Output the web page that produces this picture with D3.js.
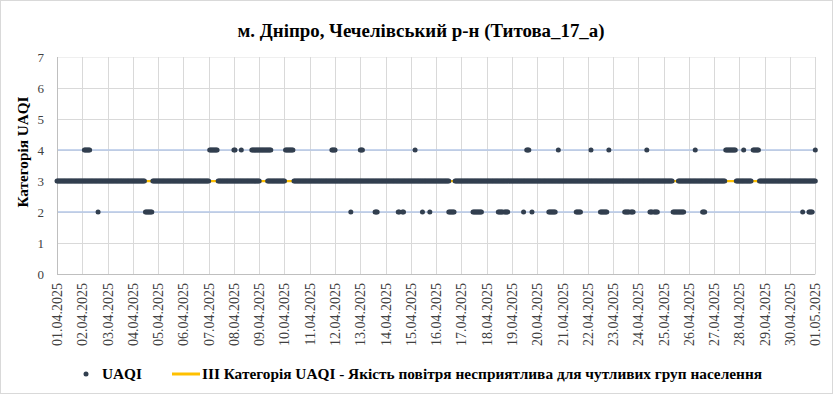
<!DOCTYPE html>
<html>
<head>
<meta charset="utf-8">
<script src="https://cdn.jsdelivr.net/npm/d3@7"></script>
<style>
  body { margin: 0; background: #fff; }
  svg { display: block; font-family: "Times New Roman", "Liberation Serif", serif; }
</style>
</head>
<body>
<div class="chart"></div>
<script>
// day labels on the x axis
const dayLabels = ['01.04.2025','02.04.2025','03.04.2025','04.04.2025','05.04.2025','06.04.2025',
  '07.04.2025','08.04.2025','09.04.2025','10.04.2025','11.04.2025','12.04.2025','13.04.2025',
  '14.04.2025','15.04.2025','16.04.2025','17.04.2025','18.04.2025','19.04.2025','20.04.2025',
  '21.04.2025','22.04.2025','23.04.2025','24.04.2025','25.04.2025','26.04.2025','27.04.2025',
  '28.04.2025','29.04.2025','30.04.2025','01.05.2025'];

// hourly UAQI category readings (2 / 3 / 4), one string of 24 hours per day
const uaqiByDay = [
  '333333333333333333333333', '334444443333333233333333', '333333333333333333333333',
  '333333333333222222233333', '333333333333333333333333', '333333333333333333333333',
  '344444444333333333333333', '443333343333333334444444', '444444444444333333333333',
  '344444444333333333333333', '333333333333333333333444', '433333333333333233333333',
  '444333333333332223333333', '333333333333223322333333', '333343333332333333233333',
  '333333333333222222333333', '333333333332222222223333', '333333333332222232222333',
  '333333333332334443323333', '333333333332222222334333', '333333333333322222333333',
  '333433333333222222234333', '333333333332222232223333', '333333334332223222233333',
  '333333333222222222223333', '333333433333322233333333', '333333333334444444444333',
  '333343333333344444433333', '333333333333333333333333', '333333333333233333222233'
];
const uaqiLast = [4, 3];  // 01.05.2025 00:00

// the category-3 reading is also logged in most hours; these hour ranges have none
const noLevel3Hours = [[84, 90], [145, 152], [193, 199], [217, 224], [373, 377],
  [585, 589], [635, 644], [660, 666]];

const categoryLevel = 3;
const blueLevels = [2, 4];
const yTicks = [0, 1, 2, 3, 4, 5, 6, 7];

const titleText = 'м. Дніпро, Чечелівський р-н (Титова_17_а)';
const legendPoint = 'UAQI';
const legendLine = 'ІІІ Категорія UAQI - Якість повітря несприятлива для чутливих груп населення';

const W = 833, H = 394;
const plot = { left: 57, right: 815.3, top: 57, bottom: 274 };

const start = new Date(2025, 3, 1);
const end = new Date(2025, 4, 1);

// hourly points
const points = [];
uaqiByDay.forEach((s, d) => {
  s.split('').forEach((v, h) => {
    const hour = d * 24 + h;
    const t = new Date(2025, 3, 1 + d, h);
    if (+v !== categoryLevel) points.push({ t, v: +v });
    if (!noLevel3Hours.some(r => hour >= r[0] && hour <= r[1])) {
      points.push({ t, v: categoryLevel });
    }
  });
});
uaqiLast.forEach(v => points.push({ t: end, v }));

const x = d3.scaleTime().domain([start, end]).range([plot.left, plot.right]);
const y = d3.scaleLinear().domain([0, 7]).range([plot.bottom, plot.top]);
const dayTicks = dayLabels.map((l, i) => new Date(2025, 3, 1 + i));

const svg = d3.select('.chart')
  .append('svg')
  .attr('width', W)
  .attr('height', H);

// outer frame
svg.append('rect')
  .attr('x', 0.5).attr('y', 0.5)
  .attr('width', W - 1).attr('height', H - 1)
  .attr('fill', '#fff')
  .attr('stroke', '#d9d9d9');

// horizontal gridlines
svg.append('g')
  .selectAll('line')
  .data(yTicks.slice(1))
  .enter()
  .append('line')
  .attr('x1', plot.left).attr('x2', plot.right)
  .attr('y1', d => Math.round(y(d)) + 0.5)
  .attr('y2', d => Math.round(y(d)) + 0.5)
  .attr('stroke', d => d === 7 ? '#efefef' : '#d9d9d9');

// vertical gridlines
svg.append('g')
  .selectAll('line')
  .data(dayTicks.slice(1))
  .enter()
  .append('line')
  .attr('x1', d => Math.round(x(d)) + 0.5)
  .attr('x2', d => Math.round(x(d)) + 0.5)
  .attr('y1', plot.top).attr('y2', plot.bottom)
  .attr('stroke', '#d9d9d9');

// light blue lines at 2 and 4
svg.append('g')
  .selectAll('line')
  .data(blueLevels)
  .enter()
  .append('line')
  .attr('x1', plot.left).attr('x2', plot.right)
  .attr('y1', d => y(d)).attr('y2', d => y(d))
  .attr('stroke', '#b4c7e7')
  .attr('stroke-width', 1.5);

// axis lines
svg.append('line')
  .attr('x1', Math.round(plot.left) + 0.5).attr('x2', Math.round(plot.left) + 0.5)
  .attr('y1', plot.top).attr('y2', plot.bottom)
  .attr('stroke', '#bfbfbf');
svg.append('line')
  .attr('x1', plot.left).attr('x2', plot.right)
  .attr('y1', plot.bottom + 0.5).attr('y2', plot.bottom + 0.5)
  .attr('stroke', '#bfbfbf');

// y tick labels
svg.append('g')
  .selectAll('text')
  .data(yTicks)
  .enter()
  .append('text')
  .attr('x', 44)
  .attr('y', d => y(d) + 4.5)
  .attr('text-anchor', 'end')
  .style('font-size', '13px')
  .attr('fill', '#404040')
  .text(d => d);

// x tick labels
svg.append('g')
  .selectAll('text')
  .data(dayTicks)
  .enter()
  .append('text')
  .attr('transform', d => `translate(${x(d) + 5},283) rotate(-90)`)
  .attr('text-anchor', 'end')
  .style('font-size', '14px')
  .attr('fill', '#404040')
  .text((d, i) => dayLabels[i]);

// category III line
svg.append('line')
  .attr('x1', x(start)).attr('x2', x(end))
  .attr('y1', y(categoryLevel)).attr('y2', y(categoryLevel))
  .attr('stroke', '#ffc000')
  .attr('stroke-width', 2.25);

// UAQI points
svg.append('g')
  .selectAll('circle')
  .data(points)
  .enter()
  .append('circle')
  .attr('cx', d => x(d.t))
  .attr('cy', d => y(d.v))
  .attr('r', 2.5)
  .attr('fill', '#323f4f');

// title
svg.append('text')
  .attr('x', 421)
  .attr('y', 37)
  .attr('text-anchor', 'middle')
  .attr('textLength', 367)
  .attr('lengthAdjust', 'spacingAndGlyphs')
  .style('font-size', '18px')
  .style('font-weight', 'bold')
  .attr('fill', '#000')
  .text(titleText);

// y axis title
svg.append('text')
  .attr('transform', 'translate(28,152) rotate(-90)')
  .attr('text-anchor', 'middle')
  .attr('textLength', 111)
  .attr('lengthAdjust', 'spacingAndGlyphs')
  .style('font-size', '14px')
  .style('font-weight', 'bold')
  .text('Категорія UAQI');

// legend
const legend = svg.append('g');
legend.append('circle')
  .attr('cx', 86).attr('cy', 374).attr('r', 2.5)
  .attr('fill', '#323f4f');
legend.append('text')
  .attr('x', 102).attr('y', 379)
  .attr('textLength', 40)
  .attr('lengthAdjust', 'spacingAndGlyphs')
  .style('font-size', '15px')
  .style('font-weight', 'bold')
  .text(legendPoint);
legend.append('line')
  .attr('x1', 172).attr('x2', 200)
  .attr('y1', 374).attr('y2', 374)
  .attr('stroke', '#ffc000')
  .attr('stroke-width', 3);
legend.append('text')
  .attr('x', 202).attr('y', 379)
  .attr('textLength', 560)
  .attr('lengthAdjust', 'spacingAndGlyphs')
  .style('font-size', '15px')
  .style('font-weight', 'bold')
  .text(legendLine);
</script>
</body>
</html>
